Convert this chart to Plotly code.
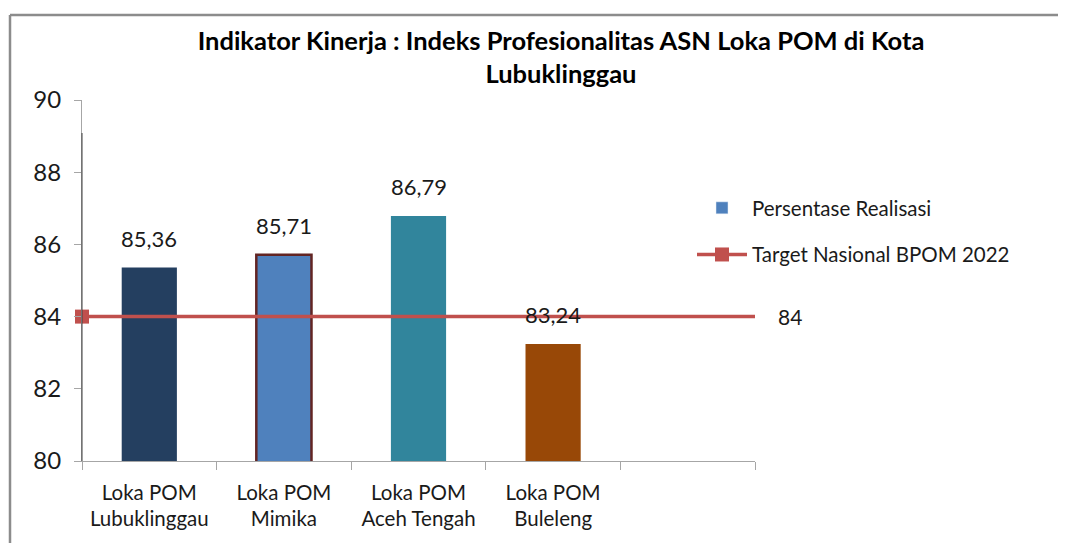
import plotly.graph_objects as go

W, H = 1066, 543
OFF = 8  # page body margin offset

categories = ["Loka POM<br>Lubuklinggau", "Loka POM<br>Mimika", "Loka POM<br>Aceh Tengah",
              "Loka POM<br>Buleleng", " "]
realisasi = [85.36, 85.71, 86.79, 83.24, None]
bar_colors = ["#243F60", "#4F81BD", "#31859C", "#984807", "#4F81BD"]
bar_line_colors = ["rgba(0,0,0,0)", "#632523", "rgba(0,0,0,0)", "rgba(0,0,0,0)", "rgba(0,0,0,0)"]
bar_line_widths = [0, 2.5, 0, 0, 0]
target_value = 84
target_x = [0, 1]
target_y = [target_value, target_value]
target_marker_colors = ["#C0504D", "rgba(0,0,0,0)"]
y_ticks = [80, 82, 84, 86, 88, 90]

title_text = "Indikator Kinerja : Indeks Profesionalitas ASN Loka POM di Kota<br>Lubuklinggau"
series_bar = "Persentase Realisasi"
series_line = "Target Nasional BPOM 2022"

FONT = "Lato"
px_l, px_r, px_t, px_b = 82, 755, 100, 461

def fx(px):
    return (px - OFF) / W

def fy(py):
    return 1 - (py - OFF) / H

fig = go.Figure()

fig.add_trace(go.Bar(
    x=categories, y=realisasi, width=0.41,
    marker=dict(color=bar_colors, line=dict(color=bar_line_colors, width=bar_line_widths)),
    showlegend=False, name=series_bar, legendgroup="a",
))
# legend entry for bars
fig.add_trace(go.Bar(
    x=[None], y=[None], name=series_bar, marker=dict(color="#4F81BD"),
    showlegend=True, legendgroup="a",
))
fig.add_trace(go.Scatter(
    x=target_x, y=target_y, xaxis="x2", mode="lines+markers", name=series_line,
    line=dict(color="#C0504D", width=3.5),
    marker=dict(symbol="square", size=14, color=target_marker_colors, line=dict(width=0)),
    cliponaxis=False, legendgroup="b",
))

annotations = []
for c, v in zip(categories, realisasi):
    if v is None:
        continue
    annotations.append(dict(
        x=c, y=v, xref="x", yref="y", text=f"{v:.2f}".replace(".", ","),
        showarrow=False, yanchor="bottom", yshift=14,
        font=dict(family=FONT, size=22, color="#1a1a1a"),
    ))
annotations.append(dict(
    x=target_x[-1], y=target_y[-1], xref="x2", yref="y", text=str(target_value),
    showarrow=False, xanchor="left", xshift=21,
    font=dict(family=FONT, size=21, color="#1a1a1a"),
))

shapes = [
    # outer frame (top and left)
    dict(type="line", xref="paper", yref="paper", x0=fx(10), x1=fx(1080), y0=fy(15), y1=fy(15),
         line=dict(color="#8c8c8c", width=2.5)),
    dict(type="line", xref="paper", yref="paper", x0=fx(10), x1=fx(10), y0=fy(15), y1=fy(560),
         line=dict(color="#8c8c8c", width=2.5)),
    # darker portion of the value axis line
    dict(type="line", xref="paper", yref="paper", x0=fx(px_l), x1=fx(px_l), y0=fy(133), y1=fy(px_b),
         line=dict(color="#404040", width=1)),
]

fig.update_layout(
    width=W, height=H,
    margin=dict(l=0, r=0, t=0, b=0),
    paper_bgcolor="white", plot_bgcolor="white",
    font=dict(family=FONT, color="#1a1a1a"),
    title=dict(text=title_text, x=fx(561), xanchor="center", xref="paper",
               y=fy(50), yanchor="middle", yref="paper",
               font=dict(family=FONT, size=25.5, color="black", weight="bold")),
    xaxis=dict(domain=[fx(px_l), fx(px_r)], type="category", tickson="boundaries",
               ticks="outside", ticklen=8, tickcolor="#a6a6a6", showline=True,
               linecolor="#a6a6a6", linewidth=1, showgrid=False, automargin=False,
               ticklabelstandoff=13,
               tickfont=dict(family=FONT, size=20.5, color="#1a1a1a"), fixedrange=True),
    xaxis2=dict(domain=[fx(px_l), fx(px_r)], overlaying="x", range=[0, 1], visible=False,
                anchor="y"),
    yaxis=dict(domain=[fy(px_b), fy(px_t)], range=[80, 90], tickvals=y_ticks,
               ticks="outside", ticklen=7, tickcolor="#a6a6a6", showline=True,
               linecolor="#a6a6a6", linewidth=1, showgrid=False, zeroline=False,
               automargin=False, ticklabelstandoff=8,
               tickfont=dict(family=FONT, size=24, color="#1a1a1a")),
    legend=dict(x=fx(692), y=fy(188), xanchor="left", yanchor="top",
                traceorder="grouped", tracegroupgap=17, itemwidth=50,
                font=dict(family=FONT, size=20.5, color="#1a1a1a"),
                bgcolor="rgba(0,0,0,0)"),
    annotations=annotations,
    shapes=shapes,
    bargap=0.59,
)

fig.write_html("out.html")
